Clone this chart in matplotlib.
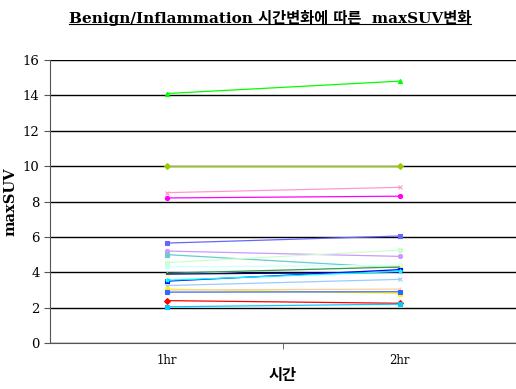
import numpy as np
import matplotlib.pyplot as plt
from matplotlib.lines import Line2D

plt.rcParams['font.family'] = ['DejaVu Serif', 'Noto Sans CJK KR', 'DejaVu Sans']

# categories on the x axis
times = ['1hr', '2hr']

# maxSUV at 1hr and 2hr for each lesion
green_tri = [14.1, 14.8]
olive_dia = [10.0, 10.0]
pink_x = [8.5, 8.8]
magenta_o = [8.2, 8.3]
slate = [5.65, 6.05]
lavender = [5.2, 4.9]
turquoise = [5.0, 4.25]
pale_green = [4.55, 5.25]
pale_cyan = [4.3, 4.4]
light_yellow = [3.9, 4.35]
dark_green = [3.95, 4.3]
navy = [3.9, 4.0]
blue = [3.5, 4.15]
cyan = [3.55, 4.05]
light_blue = [3.25, 3.6]
yellow = [3.05, 2.8]
peach = [3.0, 3.05]
royal = [2.88, 2.9]
red = [2.4, 2.25]
sky = [2.05, 2.2]

series = [
    (green_tri, '#00FF00', '^'),
    (olive_dia, '#99CC00', 'D'),
    (pink_x, '#FF99CC', 'x'),
    (magenta_o, '#FF00FF', 'o'),
    (slate, '#6666FF', 's'),
    (lavender, '#CC99FF', 'o'),
    (turquoise, '#66CCCC', 's'),
    (pale_green, '#CCFFCC', 's'),
    (pale_cyan, '#CCFFFF', 'o'),
    (light_yellow, '#FFFF99', '^'),
    (dark_green, '#339966', ''),
    (navy, '#000080', ''),
    (blue, '#0000FF', 's'),
    (cyan, '#00FFFF', '*'),
    (light_blue, '#99CCFF', 'x'),
    (yellow, '#FFFF00', 's'),
    (peach, '#FFCC99', '|'),
    (royal, '#3366FF', 's'),
    (red, '#FF0000', 'D'),
    (sky, '#00CCFF', 's'),
]

fig = plt.figure(figsize=(5.16, 3.89), dpi=100)
ax = fig.add_axes([0.097, 0.118, 0.903, 0.728])

x = np.arange(len(times))
for vals, col, mk in series:
    ax.plot(x, vals, color=col, lw=0.9, marker=mk if mk else None,
            ms=3, mew=0.8, mec=col, mfc=col, zorder=3)

ax.set_xlim(-0.5, 1.5)
ax.set_ylim(0, 16)
ax.set_yticks(range(0, 17, 2))
ax.yaxis.grid(True, color='black', lw=1.0)
ax.set_axisbelow(True)

ax.set_xticks(x)
ax.set_xticklabels(times, fontsize=8.5)
ax.tick_params(axis='x', length=0, pad=8)
ax.set_xticks([0.5], minor=True)
ax.tick_params(axis='x', which='minor', length=4, color='#555555')
ax.tick_params(axis='y', labelsize=9.5, length=4, color='#555555', direction='out')

for s in ['top', 'right']:
    ax.spines[s].set_visible(False)
ax.spines['left'].set_color('#555555')
ax.spines['bottom'].set_color('#555555')

ax.set_ylabel('maxSUV', fontsize=10.5, fontweight='bold', labelpad=4)
ax.set_xlabel('시간', fontsize=11, fontweight='bold', labelpad=1)

t = fig.text(0.523, 0.955, 'Benign/Inflammation 시간변화에 따른  maxSUV변화',
             ha='center', va='center', fontsize=11, fontweight='bold')
fig.canvas.draw()
bb = t.get_window_extent().transformed(fig.transFigure.inverted())
fig.add_artist(Line2D([bb.x0, bb.x1], [bb.y0 + 0.004, bb.y0 + 0.004],
                      color='black', lw=0.8, transform=fig.transFigure))

plt.savefig('out.png', dpi=100)
